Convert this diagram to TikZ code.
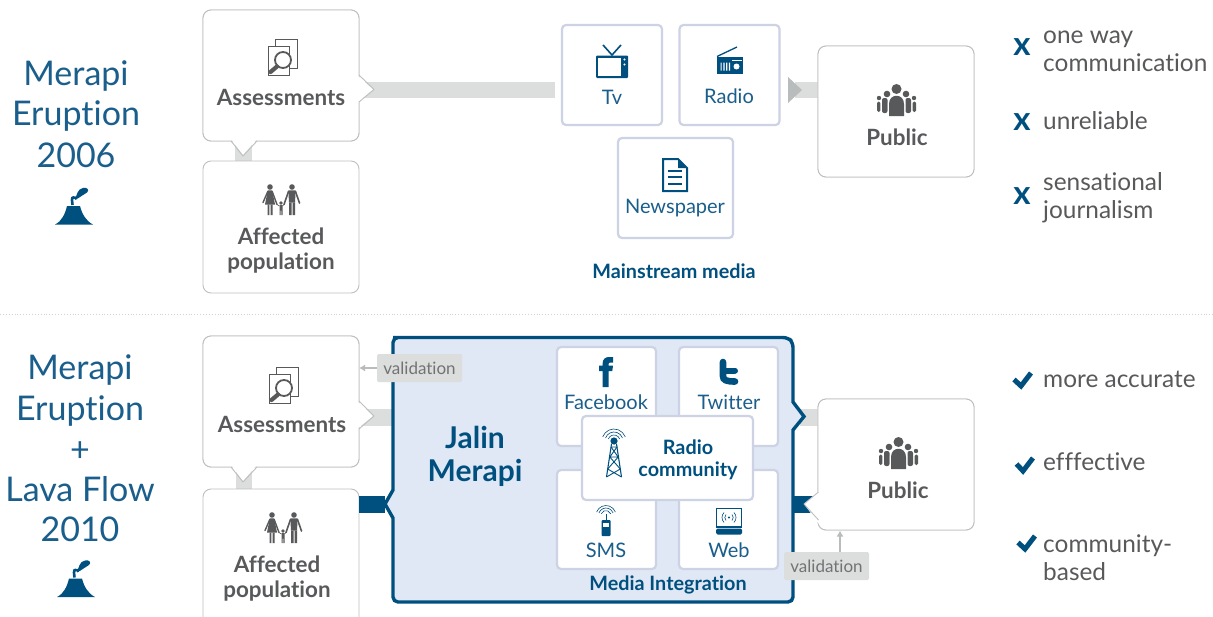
\documentclass[tikz,border=0pt]{standalone}
\usepackage{fontspec}
\usetikzlibrary{arrows.meta}
\setmainfont[Ligatures=NoCommon]{Lato}
\definecolor{bluedk}{HTML}{00507F}
\definecolor{bluetx}{HTML}{1A5E8C}
\definecolor{graytx}{HTML}{58595B}
\definecolor{grayln}{HTML}{BEBFBF}
\definecolor{graybar}{HTML}{DCDEDD}
\definecolor{grayarr}{HTML}{B9BCBC}
\definecolor{mediaedge}{HTML}{CDD2E4}
\definecolor{panel}{HTML}{E1E8F5}
\definecolor{divline}{HTML}{C5D6DC}
\newcommand{\fsz}[1]{\fontsize{#1}{#1}\selectfont}
\tikzset{
  graybox/.style={draw=grayln,line width=0.9pt,fill=white,rounded corners=8pt,inner sep=0pt,outer sep=0pt},
  mediabox/.style={draw=mediaedge,line width=2.2pt,fill=white,rounded corners=4pt,inner sep=0pt,outer sep=0pt},
  tag/.style={fill=graybar,rounded corners=1.5pt,inner sep=0pt,outer sep=0pt,minimum width=85pt,minimum height=28pt,text=graytx!85,font=\fsz{17}},
  boldgray/.style={text=graytx,font=\fsz{22.4}\bfseries,inner sep=0pt},
  medialabel/.style={text=bluetx,font=\fsz{20},inner sep=0pt},
  bluebold/.style={text=bluedk,font=\fsz{19.8}\bfseries,inner sep=0pt},
  bigtitle/.style={text=bluetx,font=\fsz{34},inner sep=0pt},
  side/.style={text=graytx,font=\fsz{24.4},inner sep=0pt,anchor=base west},
  xmark/.style={text=bluedk,font=\fsz{33}\bfseries,inner sep=0pt},
  gconn/.style={draw=graybar,line width=16.5pt},
  bconn/.style={draw=bluedk,line width=17pt},
  valarrow/.style={draw=grayarr,line width=1.4pt,-{Latex[length=6pt,width=7pt]}},
  pointer/.style={draw=grayln,line width=0.9pt,fill=white,line join=round},
  checkm/.style={draw=bluedk,line width=5pt,line join=miter},
  assessicon/.pic={
    \draw[graytx,line width=0.9pt,fill=white] (-7,-18) rectangle (15,11);
    \draw[graytx,line width=0.9pt,fill=white] (-14,-11) rectangle (7,18);
    \draw[graytx,line width=1.8pt,fill=white] (1,3) circle (8);
    \draw[graytx,line width=4.2pt,line cap=round] (-5,9.5) -- (-11.5,15);
  },
  familyicon/.pic={
    \fill[graytx] (-11,-12.5) circle (2.8);
    \fill[graytx] (11,-12.5) circle (2.8);
    \fill[graytx] (0,3.5) circle (1.8);
    \draw[graytx,line width=1.4pt,line cap=round] (-13.2,-8) -- (-18,3) (-8.8,-8) -- (-4,5);
    \fill[graytx] (-13.2,-9.2) -- (-8.8,-9.2) -- (-6,5) -- (-16,5) -- cycle;
    \fill[graytx] (-13.5,5) rectangle (-11.7,15.5) (-10.3,5) rectangle (-8.5,15.5);
    \draw[graytx,line width=1.6pt,line cap=round] (7.5,-8) -- (3,5) (14.5,-8) -- (18.5,3.5);
    \fill[graytx] (7.3,-9.2) -- (14.7,-9.2) -- (14,3) -- (8,3) -- cycle;
    \fill[graytx] (8,3) rectangle (10.5,15.5) (11.5,3) rectangle (14,15.5);
    \fill[graytx] (-1.5,5.5) rectangle (1.5,11) (-1.5,11) rectangle (-0.3,15.5) (0.3,11) rectangle (1.5,15.5);
    \draw[graytx,line width=0.6pt] (-4,5) -- (-1.5,6.5) (1.5,6.5) -- (3,5);
  },
  peopleicon/.pic={
    \fill[graytx] (-17.5,-2) circle (2.2);
    \fill[graytx] (17.5,-2) circle (2.2);
    \fill[graytx,rounded corners=1.5pt] (-19.5,1.5) rectangle (-16.2,12);
    \fill[graytx,rounded corners=1.5pt] (16.2,1.5) rectangle (19.5,12);
    \fill[graytx] (-9.5,-6) circle (3.3);
    \fill[graytx] (9.5,-6) circle (3.3);
    \fill[graytx,rounded corners=2pt] (-14.5,-2) rectangle (-9,13);
    \fill[graytx,rounded corners=2pt] (9,-2) rectangle (14.5,13);
    \fill[graytx] (0,-11) circle (5);
    \fill[white] (-8.7,16) -- (-8.7,4) .. controls (-8.7,-8.5) and (8.7,-8.5) .. (8.7,4) -- (8.7,16) -- cycle;
    \fill[graytx] (-7.5,16) -- (-7.5,4) .. controls (-7.5,-7) and (7.5,-7) .. (7.5,4) -- (7.5,16) -- cycle;
  },
  tvicon/.pic={
    \draw[bluedk,line width=1.6pt] (-9,-17) -- (0,-7) -- (9,-17);
    \fill[bluedk,rounded corners=1pt] (-16,-6.5) rectangle (16,16);
    \fill[white] (-14,-4.5) rectangle (9,14);
    \fill[white] (12.5,-2.5) circle (1.2) (12.5,2.5) circle (1.2);
  },
  radioicon/.pic={
    \draw[bluedk,line width=1.3pt] (-13,-4) -- (7,-13.5);
    \fill[bluedk] (-13,-4) rectangle (13,13);
    \fill[white] (-9.5,2) rectangle (-8.3,10) (-6.7,2) rectangle (-5.5,10) (-3.9,2) rectangle (-2.7,10) (-1.1,2) rectangle (0.1,10);
    \fill[white] (6.5,6) circle (3);
    \fill[white] (2,-0.6) rectangle (12,0.6);
  },
  newsicon/.pic={
    \draw[bluedk,line width=2pt,fill=white,line join=miter] (-12,-16) -- (3,-16) -- (12,-7) -- (12,16) -- (-12,16) -- cycle;
    \fill[bluedk] (3,-16) -- (12,-7) -- (3,-7) -- cycle;
    \draw[bluedk,line width=1.2pt] (-7,-4) -- (7,-4) (-7,2) -- (7,2) (-7,9) -- (7,9);
  },
  ficon/.pic={
    \fill[bluedk] (-3.5,15) -- (-3.5,-1) -- (-7,-1) -- (-7,-6.5) -- (-3.5,-6.5) -- (-3.5,-8) .. controls (-3.5,-13) and (-0.5,-15) .. (3,-15) -- (7,-15) -- (7,-9.5) -- (4.5,-9.5) .. controls (3,-9.5) and (2.5,-9) .. (2.5,-7.5) -- (2.5,-6.5) -- (7,-6.5) -- (6.3,-1) -- (2.5,-1) -- (2.5,15) -- cycle;
  },
  ticon/.pic={
    \draw[bluedk,line width=6.6pt,line cap=round] (-6,-10) -- (-6,4) .. controls (-6,8) and (-3,9.5) .. (6,9.5);
    \draw[bluedk,line width=6pt,line cap=round] (-6,-1.5) -- (6,-1.5);
  },
  wavesup/.pic={
    \draw[bluedk,line width=0.6pt] (-4.7,-1.71) arc[start angle=200,end angle=340,radius=5];
    \draw[bluedk,line width=0.6pt] (-7.05,-2.57) arc[start angle=200,end angle=340,radius=7.5];
    \draw[bluedk,line width=0.6pt] (-9.4,-3.42) arc[start angle=200,end angle=340,radius=10];
  },
  smsicon/.pic={
    \pic at (0,-6.5) {wavesup};
    \draw[bluedk,line width=1pt] (0,-8) -- (0,-2);
    \fill[bluedk,rounded corners=1pt] (-4.5,-2) rectangle (4.5,14);
    \fill[white] (-2.6,0.5) rectangle (2.6,5);
  },
  webicon/.pic={
    \draw[bluedk,line width=1.6pt,fill=white] (-12.5,-12.5) rectangle (12.5,6);
    \fill[bluedk,rounded corners=1.5pt] (-13,7.5) rectangle (13,13.5);
    \fill[bluedk] (0,-3.5) circle (1.2);
    \draw[bluedk,line width=0.6pt] (-2.97,-0.53) arc[start angle=135,end angle=225,radius=4.2];
    \draw[bluedk,line width=0.6pt] (2.97,-0.53) arc[start angle=45,end angle=-45,radius=4.2];
    \draw[bluedk,line width=0.6pt] (-4.95,1.45) arc[start angle=135,end angle=225,radius=7];
    \draw[bluedk,line width=0.6pt] (4.95,1.45) arc[start angle=45,end angle=-45,radius=7];
  },
  towericon/.pic={
    \pic[scale=1.2] at (0,-12) {wavesup};
    \fill[bluedk] (0,-12) circle (3.6);
    \draw[bluedk,line width=1.1pt] (-2.5,-9) -- (-7.5,24) (2.5,-9) -- (7.5,24);
    \draw[bluedk,line width=0.9pt] (-3,-6) -- (3,-6) -- (-4.2,4) -- (4.2,4) -- (-6.3,16) (-3,-6) -- (4.2,4) (-4.2,4) -- (6.3,16) (-6.3,16) -- (7.5,24) (6.3,16) -- (-7.5,24);
  },
  volcano/.pic={
    \fill[bluedk] (-19,18.5) .. controls (-12,15) and (-9,8) .. (-7,0) -- (6,0) .. controls (8,8) and (12,15) .. (19,18.5) -- cycle;
    \draw[bluedk,line width=2.6pt] (-1.5,-1) -- (-2,-6) .. controls (-2,-10) and (0,-8) .. (3,-8);
    \fill[bluedk] (1,-7.5) .. controls (3,-10) and (3,-17) .. (9,-18) .. controls (13,-19) and (16,-16) .. (13,-13.5) .. controls (9,-11.5) and (7,-9) .. (1,-6) -- cycle;
  }
}
\begin{document}
\begin{tikzpicture}[x=1pt,y=-1pt,>=latex]
\useasboundingbox (0,0) rectangle (1213,616);
\clip (0,0) rectangle (1213,616);
\fill[white] (0,0) rectangle (1213,616);

% anchor points for connectors
\coordinate (a1down) at (243.5,145);
\coordinate (a2down) at (244,470);
\coordinate (jl) at (385,504.5);
\coordinate (jr) at (800,417.5);
\coordinate (pl) at (800,504.5);
\coordinate (tvend) at (555,90);
\coordinate (arrowroot) at (795,90);
\coordinate (vu) at (840,530.5);
\coordinate (a2panel) at (393,417.5);

% named frames
\node[graybox,minimum width=156pt,minimum height=131pt] (assess1) at (281,75.5) {};
\node[graybox,minimum width=156pt,minimum height=131pt] (public1) at (896,111.5) {};
\node[graybox,minimum width=156pt,minimum height=131pt] (assess2) at (281,401.5) {};
\node[graybox,minimum width=156pt,minimum height=131pt] (public2) at (896,464.5) {};

% grey connectors (behind)
\draw[gconn] (assess1.east |- tvend) -- (tvend);
\draw[gconn] (arrowroot) -- (public1.west |- arrowroot);
\draw[gconn] (assess2.east |- a2panel) -- (a2panel);
\draw[gconn] (jr) -- (public2.west |- jr);
\draw[gconn] (a1down) -- (243.5,162);
\draw[gconn] (a2down) -- (244,490);
\draw[bconn] (pl) -- (public2.west |- pl);

% boxes, top
\node[graybox,minimum width=156pt,minimum height=131pt] at (assess1) {};
\node[graybox,minimum width=156pt,minimum height=132pt] (affected1) at (281,227) {};
\node[graybox,minimum width=156pt,minimum height=131pt] at (public1) {};
\node[mediabox,minimum width=100pt,minimum height=100pt] (tv) at (612,75) {};
\node[mediabox,minimum width=100pt,minimum height=100pt] (radio) at (729.5,75) {};
\node[mediabox,minimum width=115pt,minimum height=100pt] (news) at (675.5,188) {};
\fill[grayarr] (788,77) -- (802,90) -- (788,103) -- cycle;

% pointers, top
\fill[white] (358,76) -- (373,89.5) -- (358,102) -- cycle;
\draw[pointer,fill=none] (359,75) -- (374,89.5) -- (359,102);
\fill[white] (232,140) -- (243,155) -- (256,140) -- cycle;
\draw[pointer,fill=none] (231,141) -- (243,156) -- (257,141);

% divider
\draw[draw=divline,line width=0.9pt,dotted] (0,314) -- (1213,314);

% boxes, bottom
\node[graybox,minimum width=156pt,minimum height=131pt] at (assess2) {};
\node[graybox,minimum width=156pt,minimum height=180pt] (affected2) at (281,579) {};
\draw[bconn] (affected2.east |- jl) -- (jl);
\node[minimum width=400pt,minimum height=265pt,inner sep=0pt,outer sep=0pt] (jalin) at (593,469.5) {};
\draw[draw=bluedk,fill=panel,line width=3.4pt,line join=miter]
  [rounded corners=5pt] (398,337.5) -- (788,337.5) -- (793,342.5)
  [rounded corners=0pt] -- (793,402) -- (804,416.5) -- (793,430)
  [rounded corners=5pt] -- (793,602) -- (393,602)
  [rounded corners=0pt] -- (393,518) -- (385,504) -- (393,490)
  [rounded corners=5pt] -- (393,337.5) -- cycle;
\node[graybox,minimum width=156pt,minimum height=131pt] at (public2) {};
\draw[bconn] (793,504.5) -- (806,504.5);
\fill[white] (819,491) -- (804,504) -- (819,524) -- cycle;
\draw[pointer,fill=none] (818.5,492) -- (804,504) -- (818.5,520);
\fill[white] (358,402) -- (373,416) -- (358,428) -- cycle;
\draw[pointer,fill=none] (359,401) -- (374,416) -- (359,429);
\fill[white] (232,466) -- (243,481) -- (256,466) -- cycle;
\draw[pointer,fill=none] (231,467) -- (243,482) -- (257,467);

\node[mediabox,minimum width=99pt,minimum height=99pt] (fb) at (606.5,396.5) {};
\node[mediabox,minimum width=99pt,minimum height=99pt] (tw) at (728.5,396.5) {};
\node[mediabox,minimum width=99pt,minimum height=99pt] (sms) at (606.5,519.5) {};
\node[mediabox,minimum width=99pt,minimum height=99pt] (web) at (728.5,519.5) {};
\node[mediabox,minimum width=171pt,minimum height=84pt] (rc) at (667.5,458) {};

% validation tags
\node[tag] (val1) at (419.5,368) {validation};
\node[tag] (val2) at (826.5,566) {validation};
\draw[valarrow] (val1.west) -- (assess2.east |- val1.west);
\draw[valarrow] (val2.north -| vu) -- (vu);

% icons
\pic at (282,57) {assessicon};
\pic at (283,385) {assessicon};
\pic at (281,199.5) {familyicon};
\pic at (283,527.5) {familyicon};
\pic at (896.5,100) {peopleicon};
\pic at (898.5,453) {peopleicon};
\pic at (612,62) {tvicon};
\pic at (730,60.5) {radioicon};
\pic at (675,175) {newsicon};
\pic at (606,372) {ficon};
\pic at (729,372) {ticon};
\pic at (606,522) {smsicon};
\pic at (729,521) {webicon};
\pic at (614,453) {towericon};
\pic at (74,206) {volcano};
\pic at (76,578.5) {volcano};

% labels
\node[boldgray] (t1) at (281,97) {Assessments};
\node[boldgray,align=center] (t2a) at (281,236) {Affected};
\node[boldgray] (t2b) at (281,263) {population};
\node[boldgray] (t3) at (897,137) {Public};
\node[medialabel] (t4) at (612,97) {Tv};
\node[medialabel] (t5) at (729,96) {Radio};
\node[medialabel] (t6) at (675,208) {Newspaper};
\node[bluebold] (t7) at (674,271) {Mainstream media};

\node[boldgray] (b1) at (282,424) {Assessments};
\node[boldgray] (b2a) at (277,564) {Affected};
\node[boldgray] (b2b) at (277,591) {population};
\node[boldgray] (b3) at (898,490) {Public};
\node[medialabel] (b4) at (606,402) {Facebook};
\node[medialabel] (b5) at (729,402) {Twitter};
\node[medialabel] (b6) at (606,550) {SMS};
\node[medialabel] (b7) at (729,550) {Web};
\node[bluebold] (b8) at (688,447) {Radio};
\node[bluebold] (b9) at (688,471) {community};
\node[bluebold] (b10) at (668,585) {Media Integration};
\node[text=bluedk,font=\fsz{30}\bfseries,inner sep=0pt] (jm1) at (475,437) {Jalin};
\node[text=bluedk,font=\fsz{30}\bfseries,inner sep=0pt] (jm2) at (475,473) {Merapi};

\node[bigtitle] (l1) at (76,76.5) {Merapi};
\node[bigtitle] (l2) at (76,116.5) {Eruption};
\node[bigtitle] (l3) at (76,155) {2006};
\node[bigtitle] (m1) at (80,370) {Merapi};
\node[bigtitle] (m2) at (80,411) {Eruption};
\node[bigtitle] (m3) at (80,452) {+};
\node[bigtitle] (m4) at (80,489) {Lava Flow};
\node[bigtitle] (m5) at (80,529) {2010};

% right column
\node[xmark] (x1) at (1022,47) {x};
\node[xmark] (x2) at (1022,122) {x};
\node[xmark] (x3) at (1022,196) {x};
\node[side] (s1) at (1043,43) {one way};
\node[side] (s2) at (1043,71) {communication};
\node[side] (s3) at (1043,129) {unreliable};
\node[side] (s4) at (1043,190) {sensational};
\node[side] (s5) at (1043,218) {journalism};
\node[side] (s6) at (1043,387) {more accurate};
\node[side] (s7) at (1043,470) {efffective};
\node[side] (s8) at (1043,552) {community-};
\node[side] (s9) at (1043,580) {based};
\draw[checkm] (1014,379.5) -- (1021,386) -- (1031,373);
\draw[checkm] (1016.5,464) -- (1023,471) -- (1033,458);
\draw[checkm] (1018,542.5) -- (1025,549) -- (1035,536);
\end{tikzpicture}
\end{document}
